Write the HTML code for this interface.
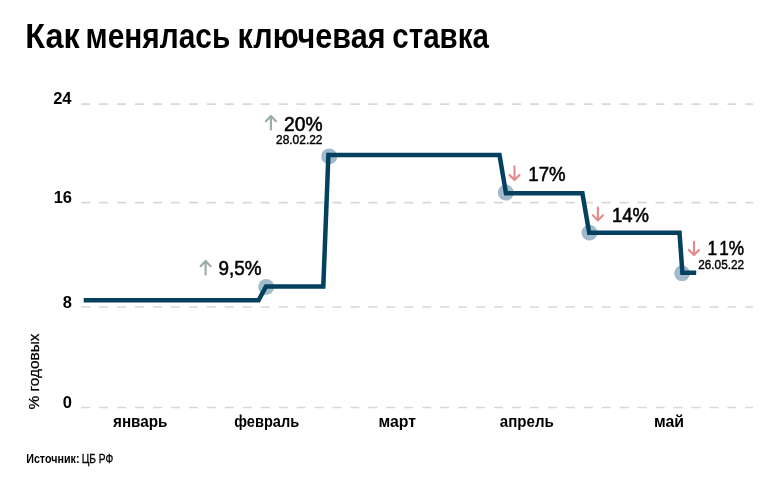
<!DOCTYPE html>
<html><head><meta charset="utf-8">
<style>
html,body{margin:0;padding:0;background:#fff;}
body{width:782px;height:485px;overflow:hidden;}
svg{display:block;will-change:transform;}
text{font-family:"Liberation Sans",sans-serif;}
</style></head>
<body>
<svg width="782" height="485" viewBox="0 0 782 485">
<rect x="0" y="0" width="782" height="485" fill="#fff"/>
<!-- title -->
<g font-size="35.7" font-weight="bold" fill="#000">
<text x="25.3" y="47.7" textLength="54.3" lengthAdjust="spacingAndGlyphs">Как</text>
<text x="85.6" y="47.7" textLength="144.7" lengthAdjust="spacingAndGlyphs">менялась</text>
<text x="237.6" y="47.7" textLength="147.9" lengthAdjust="spacingAndGlyphs">ключевая</text>
<text x="392.3" y="47.7" textLength="96.5" lengthAdjust="spacingAndGlyphs">ставка</text>
</g>

<!-- grid -->
<g stroke="#d8d8d8" stroke-width="1.7" stroke-dasharray="9 8.95" fill="none">
<line x1="81.2" y1="104.2" x2="753" y2="104.2"/>
<line x1="81.2" y1="202.7" x2="753" y2="202.7"/>
<line x1="81.2" y1="307" x2="753" y2="307"/>
<line x1="81.2" y1="407.5" x2="753" y2="407.5"/>
</g>

<!-- y labels -->
<g font-size="16.5" font-weight="bold" fill="#000" text-anchor="end">
<text x="71.5" y="103.8">24</text>
<text x="72" y="202.6">16</text>
<text x="72" y="308.2">8</text>
<text x="72" y="408.4">0</text>
</g>

<!-- y title -->
<text transform="translate(39 409.5) rotate(-90)" x="0" y="0" font-size="15" fill="#000" stroke="#000" stroke-width="0.25" textLength="76" lengthAdjust="spacingAndGlyphs">% годовых</text>

<!-- circles -->
<g fill="#a0bacb">
<circle cx="266.2" cy="286.9" r="8"/>
<circle cx="329.2" cy="156.4" r="8"/>
<circle cx="505.8" cy="192.6" r="8"/>
<circle cx="589.4" cy="232.7" r="7.9"/>
<circle cx="682.1" cy="273.3" r="7.9"/>
</g>

<!-- line -->
<path d="M83.7 300.2 L258.6 300.2 L266 286.4 L323.3 286.4 L328.4 155 L499.5 155 L506 193.3 L582.4 193.3 L589.2 232.8 L679.5 232.8 L682.4 272.8 L696.2 272.8" fill="none" stroke="#05405f" stroke-width="4.5" stroke-linejoin="miter" stroke-miterlimit="10"/>

<!-- arrows -->
<g fill="none" stroke-width="2.1" stroke-linecap="round" stroke-linejoin="round">
<path d="M205.6 261 V274.6 M200.6 266.2 L205.6 261 L210.6 266.2" stroke="#98aca8"/>
<path d="M270.9 116 V129.6 M265.9 121.2 L270.9 116 L275.9 121.2" stroke="#98aca8"/>
<path d="M514.5 166.3 V180.1 M509.5 174.9 L514.5 180.1 L519.5 174.9" stroke="#e58a8c"/>
<path d="M597.9 207.5 V220.5 M592.9 215.3 L597.9 220.5 L602.9 215.3" stroke="#e58a8c"/>
<path d="M694 241.9 V255.1 M689.0 249.9 L694 255.1 L699.0 249.9" stroke="#e58a8c"/>
</g>

<!-- annotation values -->
<g font-size="20.4" fill="#000" stroke="#000" stroke-width="0.55">
<text x="218.5" y="275.1" textLength="43" lengthAdjust="spacingAndGlyphs">9,5%</text>
<text x="284" y="130.6" textLength="38.5" lengthAdjust="spacingAndGlyphs">20%</text>
<text x="528.3" y="180.7" textLength="37.3" lengthAdjust="spacingAndGlyphs">17%</text>
<text x="612" y="221.5" textLength="37" lengthAdjust="spacingAndGlyphs">14%</text>
<text x="707.5" y="255.4" textLength="36.5" lengthAdjust="spacingAndGlyphs"><tspan letter-spacing="2.5">1</tspan>1%</text>
</g>
<g font-size="12" fill="#000" stroke="#000" stroke-width="0.4">
<text x="276" y="143.9" textLength="46.5" lengthAdjust="spacingAndGlyphs">28.02.22</text>
<text x="698.2" y="269.1" textLength="46" lengthAdjust="spacingAndGlyphs">26.05.22</text>
</g>

<!-- x labels -->
<g font-size="16" font-weight="bold" fill="#000">
<text x="113" y="426.9" textLength="54.5" lengthAdjust="spacingAndGlyphs">январь</text>
<text x="234.3" y="426.9" textLength="64.8" lengthAdjust="spacingAndGlyphs">февраль</text>
<text x="378.5" y="426.9" textLength="37.5" lengthAdjust="spacingAndGlyphs">март</text>
<text x="499.8" y="426.9" textLength="54" lengthAdjust="spacingAndGlyphs">апрель</text>
<text x="654" y="426.9" textLength="30" lengthAdjust="spacingAndGlyphs">май</text>
</g>

<!-- source -->
<text x="26.2" y="462.5" font-size="12.3" font-weight="bold" fill="#000" textLength="53.3" lengthAdjust="spacingAndGlyphs">Источник:</text>
<text x="81.8" y="462.5" font-size="12.3" fill="#000" stroke="#000" stroke-width="0.3" textLength="31.5" lengthAdjust="spacingAndGlyphs">ЦБ РФ</text>
</svg>
</body></html>
